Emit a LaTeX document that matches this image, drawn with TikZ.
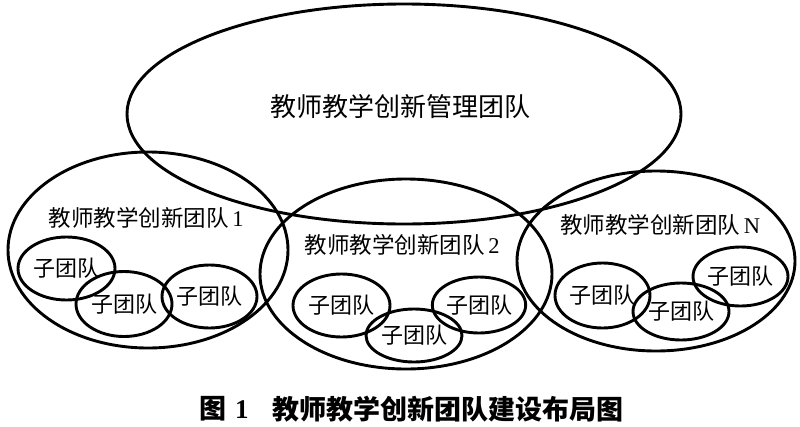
\documentclass[tikz,border=0pt]{standalone}
\usepackage{fontspec}
\setmainfont{Liberation Serif}
\newfontfamily\cjk{Noto Sans CJK SC}
\usetikzlibrary{shapes.geometric}
\tikzset{
  team/.style={draw, ellipse, line width=2.9pt, inner sep=0pt},
  sub/.style={team, font=\fontsize{22}{22}\selectfont\cjk},
  lbl/.style={inner sep=0pt, font=\fontsize{22.5}{22.5}\selectfont\cjk},
  captext/.style={inner sep=0pt, anchor=west, font=\fontsize{27}{27}\selectfont\cjk\bfseries},
}
\begin{document}
\begin{tikzpicture}[x=1pt,y=-1pt]
\useasboundingbox (0,0) rectangle (800,426);
% management team
\node[team, minimum width=554pt, minimum height=220pt] (mgmt) at (404,114) {};
\node[lbl, font=\fontsize{26}{26}\selectfont\cjk] (mgmtL) at (400,107) {教师教学创新管理团队};
% teams
\node[team, minimum width=280pt, minimum height=196pt] (t1) at (148,250) {};
\node[team, minimum width=292pt, minimum height=190pt] (t2) at (406,274) {};
\node[team, minimum width=278pt, minimum height=180pt] (tN) at (656,261) {};
\node[lbl] (t1L) at (146,218) {教师教学创新团队\,{\rmfamily 1}};
\node[lbl] (t2L) at (402,245) {教师教学创新团队\,{\rmfamily 2}};
\node[lbl] (tNL) at (660,225) {教师教学创新团队\,{\rmfamily N}};
% sub teams of team 1
\node[sub, minimum width=97pt, minimum height=63pt] (a) at (66.5,268.5) {子团队};
\node[sub, minimum width=96pt, minimum height=65pt] (b) at (124,304) {子团队};
\node[sub, minimum width=95pt, minimum height=63pt] (c) at (209.5,296.5) {子团队};
% sub teams of team 2
\node[sub, minimum width=97pt, minimum height=63pt] (g) at (341.5,305.5) {子团队};
\node[sub, minimum width=96pt, minimum height=53pt] (h) at (414,335.5) {子团队};
\node[sub, minimum width=92pt, minimum height=56pt] (i) at (479,305) {子团队};
% sub teams of team N
\node[sub, minimum width=95pt, minimum height=65pt] (d) at (602.5,295.5) {子团队};
\node[sub, minimum width=96pt, minimum height=57pt] (e) at (681,311.5) {子团队};
\node[sub, minimum width=95pt, minimum height=59pt] (f) at (740.5,276.5) {子团队};
% caption
\node[captext] (capA) at (199,409) {图\,\,{\rmfamily\bfseries 1}};
\node[captext] (capB) at (272,409) {教师教学创新团队建设布局图};
\end{tikzpicture}
\end{document}
